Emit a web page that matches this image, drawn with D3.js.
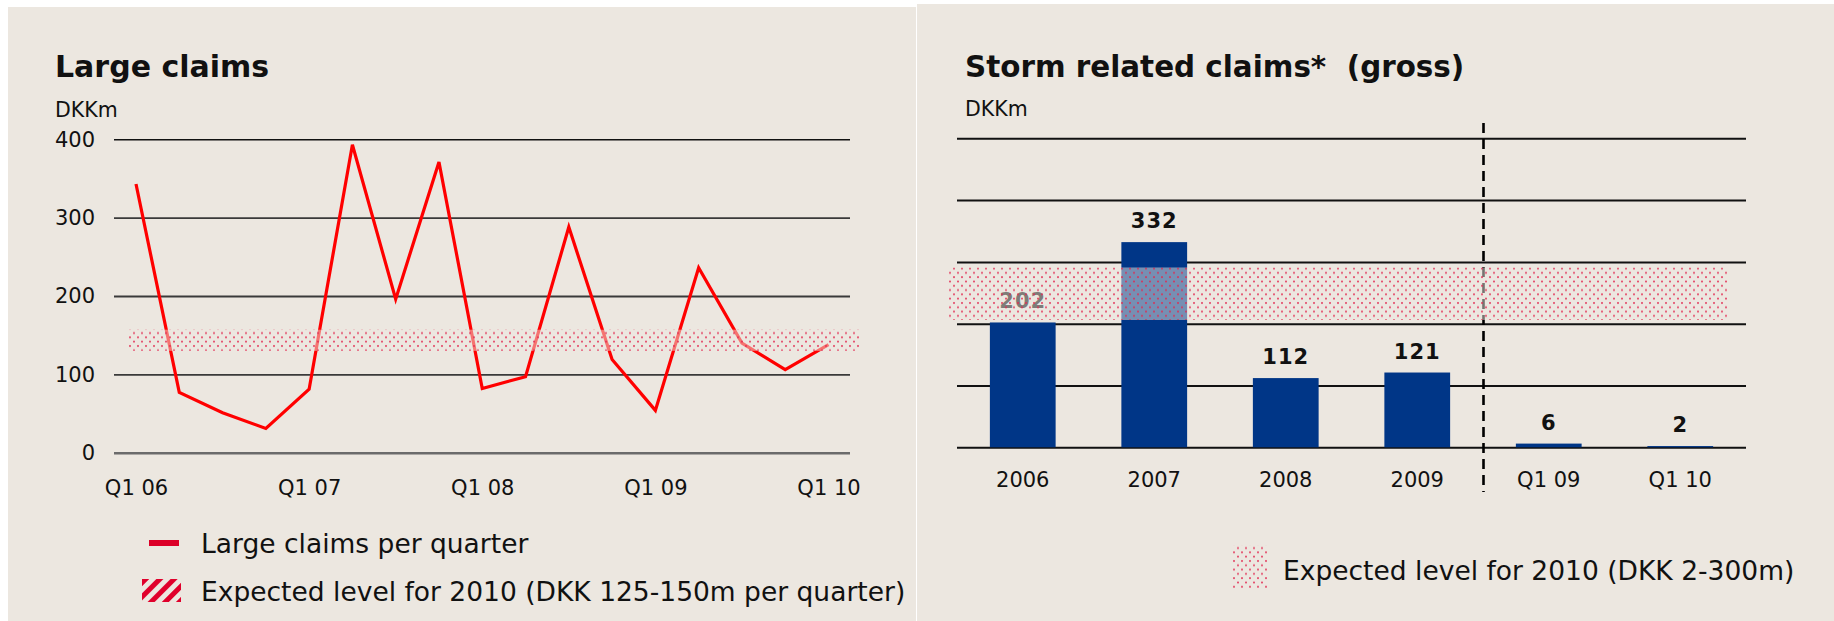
<!DOCTYPE html>
<html>
<head>
<meta charset="utf-8">
<script src="https://cdn.jsdelivr.net/npm/d3@7"></script>
<style>
  body { margin: 0; background: #fff; }
  svg { display: block; font-family: "DejaVu Sans", Verdana, sans-serif; }
</style>
</head>
<body>
<svg width="1834" height="621"></svg>
<script>
// Large claims per quarter
var quarters = ["Q1 06","Q2 06","Q3 06","Q4 06","Q1 07","Q2 07","Q3 07","Q4 07",
  "Q1 08","Q2 08","Q3 08","Q4 08","Q1 09","Q2 09","Q3 09","Q4 09","Q1 10"];
var largeClaims = [343, 77, 51, 31, 81, 393, 196, 371, 82, 97, 288, 119, 54, 236, 140, 106, 138];
var largeBand = [130, 157];
var largeTicks = [0, 100, 200, 300, 400];

// Storm related claims
var stormCats = ["2006", "2007", "2008", "2009", "Q1 09", "Q1 10"];
var stormValues = [202, 332, 112, 121, 6, 2];
var stormBand = [206, 291];
var stormTicks = [0, 100, 200, 300, 400, 500];

var svg = d3.select("svg");
var beige = "#ece7e0";
var font = "DejaVu Sans, Verdana, sans-serif";

// panels
svg.append("rect").attr("x", 8).attr("y", 7).attr("width", 908).attr("height", 614).attr("fill", beige);
svg.append("rect").attr("x", 917).attr("y", 4).attr("width", 917).attr("height", 617).attr("fill", beige);

// patterns
var defs = svg.append("defs");
var dots = defs.append("pattern")
  .attr("id", "dots").attr("patternUnits", "userSpaceOnUse")
  .attr("width", 8).attr("height", 8.6);
dots.append("rect").attr("width", 8).attr("height", 8.6).attr("fill", beige).attr("opacity", 0.5);
dots.append("circle").attr("cx", 2).attr("cy", 2).attr("r", 1).attr("fill", "#e3274f").attr("opacity", 0.9);
dots.append("circle").attr("cx", 6).attr("cy", 6.3).attr("r", 1).attr("fill", "#e3274f").attr("opacity", 0.9);

var hatch = defs.append("pattern")
  .attr("id", "hatch").attr("patternUnits", "userSpaceOnUse")
  .attr("width", 10).attr("height", 10)
  .attr("patternTransform", "rotate(45)");
hatch.append("rect").attr("width", 5).attr("height", 10).attr("fill", "#e0002b");

/* ---------- Large claims ---------- */
var x1 = d3.scalePoint().domain(quarters).range([136, 828.5]);
var y1 = d3.scaleLinear().domain([0, 400]).range([452.7, 139.3]);
var left1 = 114, right1 = 850;

svg.append("text").attr("x", 55).attr("y", 76.7)
  .attr("font-size", 30).attr("font-weight", "bold").attr("fill", "#111")
  .text("Large claims");
svg.append("text").attr("x", 55).attr("y", 117)
  .attr("font-size", 20.5).attr("fill", "#111").text("DKKm");

var gy1 = svg.append("g")
  .attr("transform", "translate(" + left1 + ",0)")
  .call(d3.axisLeft(y1).tickValues(largeTicks).tickSize(-(right1 - left1)).tickPadding(19))
  .attr("font-family", font).attr("font-size", 21);
gy1.select(".domain").remove();
gy1.selectAll("line")
  .attr("stroke", function(d) { return d === 0 ? "#6b6b6b" : (d === 400 ? "#111" : "#3a3a3a"); })
  .attr("stroke-width", function(d) { return d === 0 ? 2.4 : (d === 400 ? 1.4 : 1.8); });
gy1.selectAll("text").attr("fill", "#111");

var gx1 = svg.append("g")
  .attr("transform", "translate(0," + y1(0) + ")")
  .call(d3.axisBottom(x1)
    .tickValues(quarters.filter(function(q) { return q.indexOf("Q1") === 0; }))
    .tickSize(0).tickPadding(27.4))
  .attr("font-family", font).attr("font-size", 21);
gx1.select(".domain").remove();
gx1.selectAll("text").attr("fill", "#111");

var line = d3.line()
  .x(function(d, i) { return x1(quarters[i]); })
  .y(function(d) { return y1(d); });

svg.append("path")
  .datum(largeClaims)
  .attr("d", line)
  .attr("fill", "none")
  .attr("stroke", "#ff0000")
  .attr("stroke-width", 3.2)
  .attr("stroke-linejoin", "miter");

// expected level band
svg.append("rect")
  .attr("x", left1 + 13).attr("width", right1 - left1 - 4)
  .attr("y", y1(largeBand[1]))
  .attr("height", y1(largeBand[0]) - y1(largeBand[1]))
  .attr("fill", "url(#dots)");

// legend
svg.append("rect").attr("x", 149).attr("y", 540).attr("width", 30).attr("height", 6).attr("fill", "#dc0028");
svg.append("text").attr("x", 201).attr("y", 553).attr("font-size", 26.5).attr("fill", "#111")
  .text("Large claims per quarter");
svg.append("rect").attr("x", 142).attr("y", 579).attr("width", 39).attr("height", 23).attr("fill", "url(#hatch)");
svg.append("text").attr("x", 201).attr("y", 601).attr("font-size", 26.5).attr("fill", "#111")
  .text("Expected level for 2010 (DKK 125-150m per quarter)");

/* ---------- Storm related claims ---------- */
var left2 = 957, right2 = 1746;
var x2 = d3.scaleBand().domain(stormCats).range([left2, right2]).paddingInner(0.5).paddingOuter(0.25);
var y2 = d3.scaleLinear().domain([0, 500]).range([447.3, 138.3]);

svg.append("text").attr("x", 965).attr("y", 76.7)
  .attr("font-size", 29.4).attr("font-weight", "bold").attr("fill", "#111")
  .attr("xml:space", "preserve")
  .text("Storm related claims*  (gross)");
svg.append("text").attr("x", 965).attr("y", 116)
  .attr("font-size", 20.5).attr("fill", "#111").text("DKKm");

var gy2 = svg.append("g")
  .attr("transform", "translate(" + left2 + ",0)")
  .call(d3.axisLeft(y2).tickValues(stormTicks).tickSize(-(right2 - left2)).tickFormat(""));
gy2.select(".domain").remove();
gy2.selectAll("line").attr("stroke", "#111").attr("stroke-width", 2);

svg.append("g").selectAll("rect")
  .data(stormValues)
  .join("rect")
  .attr("x", function(d, i) { return x2(stormCats[i]); })
  .attr("width", x2.bandwidth())
  .attr("y", function(d) { return y2(d); })
  .attr("height", function(d) { return y2(0) - y2(d); })
  .attr("fill", "#003687");

svg.append("g").selectAll("text")
  .data(stormValues)
  .join("text")
  .attr("x", function(d, i) { return x2(stormCats[i]) + x2.bandwidth() / 2; })
  .attr("y", function(d) { return y2(d) - 14; })
  .attr("text-anchor", "middle")
  .attr("font-size", 21).attr("font-weight", "bold")
  .attr("letter-spacing", 1)
  .attr("fill", "#111")
  .text(function(d) { return d; });

var gx2 = svg.append("g")
  .attr("transform", "translate(0," + y2(0) + ")")
  .call(d3.axisBottom(x2).tickSize(0).tickPadding(24.8))
  .attr("font-family", font).attr("font-size", 21);
gx2.select(".domain").remove();
gx2.selectAll("text").attr("fill", "#111");

// separator between years and quarters
var sepX = x2("2009") + x2.step() - x2.step() * 0.25 + 0.5;
svg.append("line")
  .attr("x1", sepX).attr("x2", sepX)
  .attr("y1", 123).attr("y2", 492)
  .attr("stroke", "#000").attr("stroke-width", 2.6)
  .attr("stroke-dasharray", "10,6");

// expected level band
svg.append("rect")
  .attr("x", left2 - 10).attr("width", right2 - left2 - 7)
  .attr("y", y2(stormBand[1]))
  .attr("height", y2(stormBand[0]) - y2(stormBand[1]))
  .attr("fill", "url(#dots)");

// legend
svg.append("rect").attr("x", 1232).attr("y", 545).attr("width", 36).attr("height", 43).attr("fill", "url(#dots)");
svg.append("text").attr("x", 1283).attr("y", 580).attr("font-size", 26.5).attr("fill", "#111")
  .text("Expected level for 2010 (DKK 2-300m)");
</script>
</body>
</html>
